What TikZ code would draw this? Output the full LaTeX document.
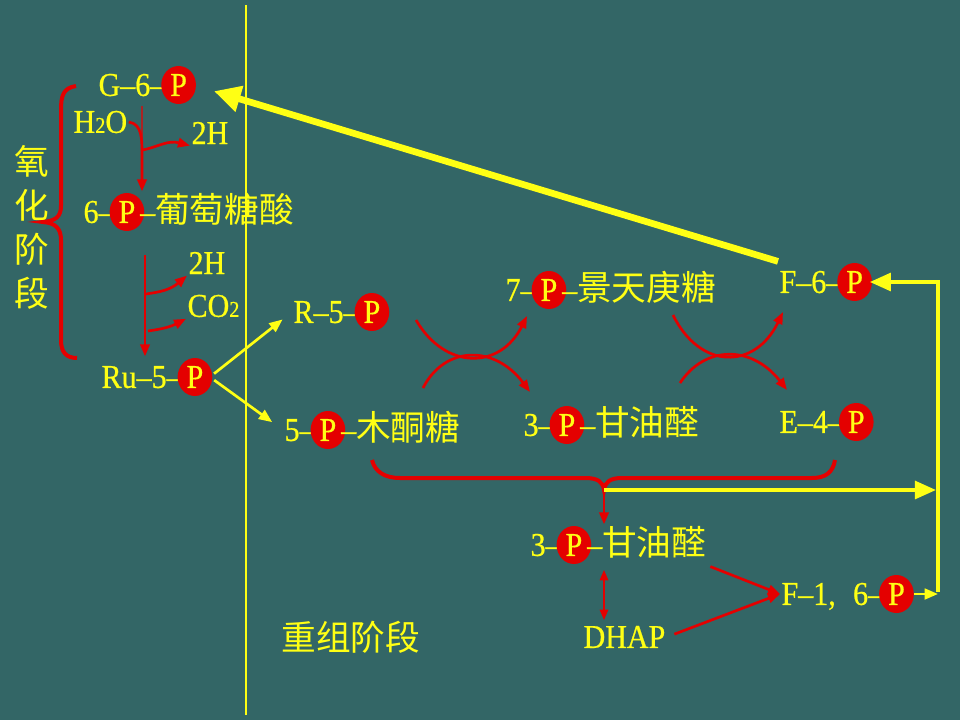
\documentclass[tikz,border=0pt]{standalone}
\usepackage{fontspec}
\setmainfont{Liberation Serif}[FakeStretch=0.9,FakeBold=0.6]
\newfontfamily\cjk{Noto Sans CJK SC}
\usepackage{xcolor}
\usepackage{tikz}
\usetikzlibrary{shapes,shapes.geometric,arrows,arrows.meta,positioning,calc}

\definecolor{boardteal}{RGB}{51,102,102}
\definecolor{chalkyellow}{RGB}{255,255,20}
\definecolor{chalkred}{RGB}{228,0,0}
\definecolor{darkchalkred}{RGB}{170,35,35}

% red ball with a yellow P
\newcommand{\pp}{\kern-3pt\tikz[baseline=(pp.base)]\node[pball] (pp) {P};\kern-3pt}
\newcommand{\zh}[1]{{\cjk\fontsize{26}{30}\selectfont #1}}
\newcommand{\sub}[1]{{\fontsize{17}{17}\selectfont #1}}

\begin{document}
\begin{tikzpicture}[
        x=0.75pt, y=-0.75pt,
        every node/.style={text=chalkyellow, font=\fontsize{25}{28}\selectfont, inner sep=1pt},
        chem/.style={anchor=west},
        pball/.style={ellipse, fill=chalkred, text=chalkyellow, inner sep=0pt, minimum width=26pt, minimum height=28.5pt},
        redarrow/.style={color=chalkred, line width=2pt, -{Triangle[length=9pt,width=7pt]}},
        reddouble/.style={color=chalkred, line width=2pt, {Triangle[length=8pt,width=6pt]}-{Triangle[length=8pt,width=6pt]}},
        redline/.style={color=darkchalkred, line width=1.5pt},
        brace/.style={draw=chalkred, line width=3pt},
        yarrow/.style={color=chalkyellow, line width=2pt, -{Triangle[length=10pt,width=8pt]}},
        bigarrow/.style={color=chalkyellow, line width=5pt, -{Triangle[length=20pt,width=19pt]}},
        ylinearrow/.style={color=chalkyellow, line width=3.5pt, -{Triangle[length=16pt,width=13pt]}}
    ]

    % Board
    \fill [boardteal] (0,0) rectangle (960,720);
    \useasboundingbox (0,0) rectangle (960,720);
    \draw [chalkyellow, line width=1.2pt] (246,5) -- (246,715);

    % Oxidative stage
    \node [chem] (g6p) at (97,85) {G–6–\pp};
    \node [chem] (h2o) at (72,122) {H\sub{2}O};
    \node [chem] (hA) at (190,133) {2H};
    \node [chem] (pg) at (82,212) {6–\pp–\zh{葡萄糖酸}};
    \node [chem] (hB) at (187,263) {2H};
    \node [chem] (co2) at (186,306) {CO\sub{2}};
    \node [chem] (ru5p) at (100,377) {Ru–5–\pp};
    \node [align=center, font=\fontsize{26}{33}\selectfont\cjk] (ox) at (32,227) {氧\\化\\阶\\段};

    % Regeneration stage
    \node [chem] (r5p) at (292,312) {R–5–\pp};
    \node [chem] (x5p) at (283,430) {5–\pp–\zh{木酮糖}};
    \node [chem] (s7p) at (504,290) {7–\pp–\zh{景天庚糖}};
    \node [chem] (ga3p) at (522,425) {3–\pp–\zh{甘油醛}};
    \node [chem] (f6p) at (778,282) {F–6–\pp};
    \node [chem] (e4p) at (778,422) {E–4–\pp};
    \node [chem] (ga3pb) at (529,545) {3–\pp–\zh{甘油醛}};
    \node [chem] (dhap) at (582,637) {DHAP};
    \node [chem] (f16p) at (780,594) {F–1,\hspace{13pt}6–\pp};
    \node [chem, font=\fontsize{26}{30}\selectfont\cjk] (rec) at (280,637) {重组阶段};

    % Brace of the oxidative stage
    \path [brace] (76,86) .. controls (63,88) and (61,96) .. (61,110) -- (61,206)
        .. controls (61,217) and (55,221) .. (43,222)
        .. controls (55,223) and (61,228) .. (61,240) -- (61,340)
        .. controls (61,352) and (66,358) .. (77,358);

    % G-6-P to 6-P-gluconate
    \coordinate (jA) at (142,158);
    \coordinate (jB) at (143,150);
    \draw [redline] (jA |- g6p.south) -- (jA);
    \draw [redarrow] (h2o.east) .. controls +(14,2) and +(0,-18) .. (jA) -- (jA |- pg.north);
    \draw [redarrow] (jB) .. controls (160,146) and (168,140) .. (hA.south west);

    % 6-P-gluconate to Ru-5-P
    \coordinate (kA) at (145,255);
    \draw [redarrow] (kA) -- (kA |- ru5p.north);
    \draw [redarrow] (146,294) .. controls (160,292) and (170,290) .. (hB.south west);
    \draw [redarrow] (148,331) .. controls (162,329) and (170,327) .. (co2.south west);

    % Ru-5-P splits
    \draw [yarrow, shorten <=4pt, shorten >=9pt] (ru5p.east) -- (r5p.west);
    \draw [yarrow, shorten <=4pt, shorten >=10pt] (ru5p.east) -- (x5p.west);

    % First exchange
    \coordinate (aA) at (416,320);
    \coordinate (aB) at (423,388);
    \draw [redarrow] (aA) .. controls (445,370) and (500,370) .. (527,316);
    \draw [redarrow] (aB) .. controls (445,345) and (495,345) .. (530,392);

    % Second exchange
    \coordinate (bA) at (673,315);
    \coordinate (bB) at (680,383);
    \draw [redarrow] (bA) .. controls (700,370) and (755,370) .. (783,312);
    \draw [redarrow] (bB) .. controls (705,345) and (752,345) .. (787,390);

    % F-6-P back to G-6-P
    \draw [bigarrow, shorten >=16pt] (f6p.north west) -- (g6p.east);

    % Brace under the sugars
    \coordinate (bj) at (604,490);
    \path [brace] (372,460) .. controls (375,472) and (385,478) .. (400,478) -- (585,478)
        .. controls (598,478) and (603,482) .. (bj)
        .. controls (605,482) and (610,478) .. (622,478) -- (812,478)
        .. controls (826,478) and (833,472) .. (835,460);
    \draw [redarrow] (bj) -- (bj |- ga3pb.north);

    % Triose phosphates to F-1,6-P
    \draw [reddouble] ([yshift=-3pt]ga3pb.south -| bj) -- ([yshift=3pt]dhap.north -| bj);
    \draw [redarrow, shorten <=2pt] (ga3pb.south east) -- (f16p.west);
    \draw [redarrow, shorten <=6pt] (dhap.east) -- (f16p.west);

    % Loop back to F-6-P
    \coordinate (loopb) at (938,594);
    \coordinate (loopt) at (938,282);
    \draw [yarrow, shorten <=2pt] (f16p.east) -- (loopb);
    \draw [ylinearrow] ([yshift=1.3pt]loopb) -- (loopt) -- (f6p.east);
    \draw [ylinearrow] (bj) -- ([xshift=-1.3pt]bj -| loopt);

\end{tikzpicture}
\end{document}
